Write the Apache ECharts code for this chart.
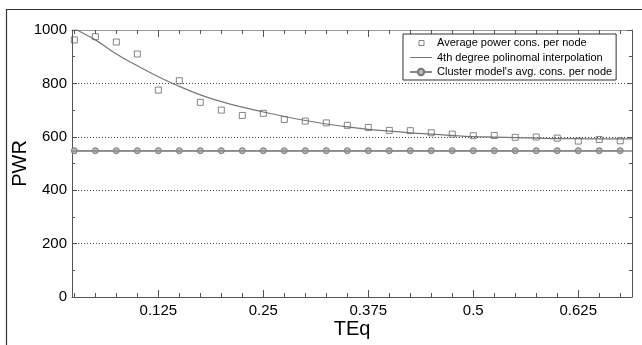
<!DOCTYPE html>
<html>
<head>
<meta charset="utf-8">
<script src="https://cdn.jsdelivr.net/npm/echarts@6/dist/echarts.min.js"></script>
<style>
html,body{margin:0;padding:0;background:#fff;}
#c{width:642px;height:345px;}
</style>
</head>
<body>
<div id="c"></div>
<script>
// ---- data ----
var xVals = [0.025,0.05,0.075,0.1,0.125,0.15,0.175,0.2,0.225,0.25,0.275,0.3,0.325,0.35,0.375,0.4,0.425,0.45,0.475,0.5,0.525,0.55,0.575,0.6,0.625,0.65,0.675];
var avgPower = [963,975,955,910,775,810,729,700,680,688,665,659,652,643,635,624,623,615,610,604,605,598,599,595,584,590,585];
var polyX = [0.0222,0.025,0.05,0.075,0.1,0.125,0.15,0.175,0.2,0.225,0.25,0.275,0.3,0.325,0.35,0.375,0.4,0.425,0.45,0.475,0.5,0.525,0.55,0.575,0.6,0.625,0.65,0.675,0.689];
var polyVals = [1015,1006,963,910,866,825,789,757,732,711,693,676,661,648,637,628,621,615,610,605,601,599,597,595,593,593,592,592,592];
var clusterVals = [548,548,548,548,548,548,548,548,548,548,548,548,548,548,548,548,548,548,548,548,548,548,548,548,548,548,548];
var xMajorTicks = [0.125,0.25,0.375,0.5,0.625];
var xMinorTicks = [0.025,0.05,0.075,0.1,0.15,0.175,0.2,0.225,0.275,0.3,0.325,0.35,0.4,0.425,0.45,0.475,0.525,0.55,0.575,0.6,0.65,0.675];
var yTicks = [0,200,400,600,800,1000];
var seriesNames = ["Average power cons. per node","4th degree polinomal interpolation","Cluster model's avg. cons. per node"];
var X_MIN = 0.0222, X_MAX = 0.689;

function zip(xs, ys){ return xs.map(function(x,i){ return [x, ys[i]]; }); }

var FONT = "'Liberation Sans', Arial, sans-serif";
var axisCol = '#555';

function xAxisDef(pos, ticks, len, showLine, lineCol, showLabel){
  return {
    type:'value', position:pos, min:X_MIN, max:X_MAX,
    axisLine:{show:showLine, onZero:false, lineStyle:{color:lineCol, width:1}},
    axisTick:{show:true, inside:true, length:len, customValues:ticks, lineStyle:{color:axisCol}},
    axisLabel:showLabel ? {show:true, customValues:ticks, color:'#000', fontSize:15, fontFamily:FONT, margin:6,
      formatter:function(v){ return String(v); }} : {show:false},
    splitLine:{show:false}
  };
}

var chart = echarts.init(document.getElementById('c'), null, {renderer:'canvas'});
var option = {
  backgroundColor:'#fff',
  animation:false,
  textStyle:{fontFamily:FONT},
  grid:{left:72, top:30, right:10, bottom:48, containLabel:false, outerBoundsMode:'none'},
  graphic:[{type:'rect', shape:{x:6.5, y:9.5, width:700, height:400}, style:{fill:'none', stroke:'#333', lineWidth:1.2}, z:-1}],
  legend:{
    orient:'vertical', left:403, top:34,
    data:[
      {name:seriesNames[0], icon:'path://M0,0M22,8M9,1.5h5v5h-5z', itemStyle:{color:'#fff', borderColor:'#666', borderWidth:1}},
      {name:seriesNames[1], icon:'path://M0,0M22,8M0,3.5h22v1h-22z'},
      {name:seriesNames[2]}
    ],
    backgroundColor:'#fff', borderColor:'#333', borderWidth:1,
    padding:[3,4,2,6], itemGap:2.5, itemWidth:22, itemHeight:8,
    textStyle:{fontSize:11, color:'#000', fontFamily:FONT, lineHeight:12}
  },
  xAxis:[
    Object.assign(xAxisDef('bottom', xMajorTicks, 7, true, axisCol, true), {name:'TEq', nameLocation:'middle', nameGap:22,
      nameMoveOverlap:false,
      nameTextStyle:{fontSize:20, color:'#000', fontFamily:FONT}}),
    xAxisDef('bottom', xMinorTicks, 4, false, axisCol, false),
    xAxisDef('top', xMajorTicks, 7, true, '#999', false),
    xAxisDef('top', xMinorTicks, 4, false, '#999', false)
  ],
  yAxis:[
    {type:'value', position:'left', min:yTicks[0], max:yTicks[yTicks.length-1], interval:200,
     axisLine:{show:true, onZero:false, lineStyle:{color:axisCol}},
     axisTick:{show:true, inside:true, length:5, lineStyle:{color:axisCol}},
     minorTick:{show:true, splitNumber:2, length:3, lineStyle:{color:axisCol}},
     axisLabel:{color:'#000', fontSize:15, fontFamily:FONT, margin:5, formatter:function(v){ return String(v); }},
     splitLine:{show:true, lineStyle:{color:'#444', type:[1,2], width:1}},
     name:'PWR', nameLocation:'middle', nameGap:42, nameMoveOverlap:false,
     nameTextStyle:{fontSize:20, color:'#000', fontFamily:FONT}},
    {type:'value', position:'right', min:yTicks[0], max:yTicks[yTicks.length-1], interval:200,
     axisLine:{show:true, onZero:false, lineStyle:{color:axisCol}},
     axisTick:{show:true, inside:true, length:5, lineStyle:{color:axisCol}},
     minorTick:{show:true, splitNumber:2, length:3, lineStyle:{color:axisCol}},
     axisLabel:{show:false}, splitLine:{show:false}}
  ],
  series:[
    {name:seriesNames[1], type:'line', xAxisIndex:0, yAxisIndex:0, data:zip(polyX, polyVals),
     smooth:true, symbol:'none', showSymbol:false, clip:true,
     lineStyle:{color:'#777', width:1.2}, itemStyle:{color:'#777'}, z:2},
    {name:seriesNames[2], type:'line', xAxisIndex:0, yAxisIndex:0, data:zip(xVals, clusterVals),
     symbol:'circle', symbolSize:6,
     lineStyle:{color:'#888', width:1.5},
     itemStyle:{color:'#bbb', borderColor:'#777', borderWidth:1},
     markLine:{silent:true, symbol:'none', label:{show:false},
       lineStyle:{color:'#888', width:1.5, type:'solid'},
       data:[{yAxis:clusterVals[0]}]}, z:3},
    {name:seriesNames[0], type:'scatter', xAxisIndex:0, yAxisIndex:0, data:zip(xVals, avgPower),
     symbol:'rect', symbolSize:6,
     itemStyle:{color:'rgba(255,255,255,0)', borderColor:'#666', borderWidth:1}, z:4}
  ]
};
chart.setOption(option);
</script>
</body>
</html>
